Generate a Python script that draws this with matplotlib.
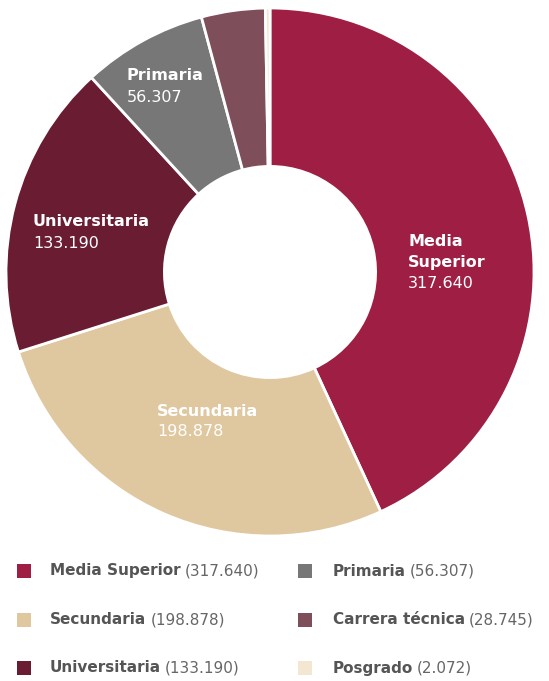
import matplotlib
matplotlib.use("Agg")
import matplotlib.pyplot as plt
from matplotlib.patches import Rectangle

plt.rcParams['font.family'] = ['DejaVu Sans']

# enrollment by level
levels = ["Media Superior", "Secundaria", "Universitaria", "Primaria",
          "Carrera técnica", "Posgrado"]
students = [317640, 198878, 133190, 56307, 28745, 2072]
value_labels = ["317.640", "198.878", "133.190", "56.307", "28.745", "2.072"]
colors = ["#9e1f43", "#dfc8a0", "#691c32", "#777777", "#7e4e5a", "#f3e7d2"]

W, H = 549, 681
fig = plt.figure(figsize=(W / 100, H / 100), dpi=100)

cx, cy, r = 270, 272, 264
ax = fig.add_axes([(cx - r) / W, 1 - (cy + r) / H, 2 * r / W, 2 * r / H])
ax.pie(students, colors=colors, startangle=90, counterclock=False,
       radius=1.0,
       wedgeprops=dict(width=0.6, edgecolor="white", linewidth=2))
ax.set_xlim(-1, 1)
ax.set_ylim(-1, 1)
ax.set_aspect("equal")
ax.axis("off")


def px(x, y):
    return x / W, 1 - y / H


# labels inside the ring (name bold, value below)
inside = [
    (0, 408, 242, ["Media", "Superior"]),
    (1, 157, 411, ["Secundaria"]),
    (2, 33, 222, ["Universitaria"]),
    (3, 127, 76, ["Primaria"]),
]
lh = 21
for i, x, y, lines in inside:
    for k, t in enumerate(lines):
        fig.text(*px(x, y + k * lh), t, color="white", fontsize=11.5,
                 fontweight="bold", va="center", ha="left")
    fig.text(*px(x, y + len(lines) * lh), value_labels[i], color="white",
             fontsize=11.5, va="center", ha="left")

# legend, two columns of three rows
fig.canvas.draw()
renderer = fig.canvas.get_renderer()
cols = [(17, 50), (298, 333)]
rows = [571, 620, 668]
for i, name in enumerate(levels):
    sx, tx = cols[i // 3]
    y = rows[i % 3]
    fig.patches.append(Rectangle(px(sx, y + 7), 14 / W, 14 / H,
                                 transform=fig.transFigure,
                                 facecolor=colors[i], edgecolor="none"))
    t = fig.text(*px(tx, y), name, color="#555555", fontsize=11,
                 fontweight="bold", va="center", ha="left")
    bb = t.get_window_extent(renderer)
    fig.text(bb.x1 / W + 4 / W, 1 - y / H, "(" + value_labels[i] + ")",
             color="#666666", fontsize=11, va="center", ha="left")

fig.savefig("out.png", dpi=100)
